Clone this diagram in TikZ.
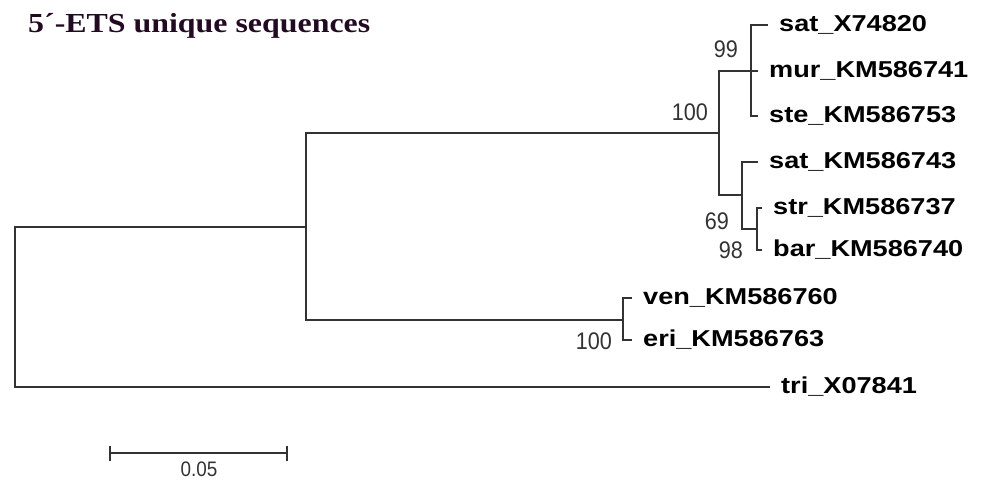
\documentclass[tikz,border=0pt]{standalone}
\usepackage{fontspec}
\setmainfont{Liberation Sans}
\newfontfamily\leaffont[FakeStretch=1.18]{Liberation Sans}
\newfontfamily\bootfont[FakeStretch=0.9]{Liberation Sans}
\newfontfamily\titlefont[FakeStretch=1.16]{Liberation Serif}
\usetikzlibrary{positioning}
\definecolor{branchgray}{RGB}{51,51,51}
\definecolor{titlepurple}{RGB}{35,10,35}

\begin{document}
\begin{tikzpicture}[x=1pt,y=-1pt]
	\tikzstyle{branch} = [draw=branchgray, line width=1.8pt]
	\tikzstyle{leaf} = [anchor=west, inner xsep=11pt, inner ysep=0pt, font=\leaffont\bfseries\fontsize{23}{27}\selectfont]
	\tikzstyle{boot} = [anchor=east, inner sep=0pt, text=branchgray, font=\bootfont\fontsize{24}{27}\selectfont]
	\useasboundingbox (0,0) rectangle (983,482);

	\node[anchor=base west, inner sep=0pt, text=titlepurple, font=\titlefont\bfseries\fontsize{27.5}{30}\selectfont] (title) at (28,32) {5´-ETS unique sequences};

	% inner nodes of the tree
	\coordinate (root) at (15,307);
	\coordinate (N1) at (306,227);
	\coordinate (NA) at (719,133);
	\coordinate (N99) at (751,71);
	\coordinate (N69) at (742,195);
	\coordinate (N98) at (757,229);
	\coordinate (NB) at (623,320);

	% taxa
	\node[leaf] (satX) at (768,25) {sat\_X74820};
	\node[leaf] (mur) at (758,71) {mur\_KM586741};
	\node[leaf] (ste) at (758,116) {ste\_KM586753};
	\node[leaf] (satK) at (758,162) {sat\_KM586743};
	\node[leaf] (str) at (762,208) {str\_KM586737};
	\node[leaf] (bar) at (762,250) {bar\_KM586740};
	\node[leaf] (ven) at (632,298) {ven\_KM586760};
	\node[leaf] (eri) at (632,340) {eri\_KM586763};
	\node[leaf] (tri) at (770,387) {tri\_X07841};

	% bootstrap values
	\node[boot] (bA) at (708,112) {100};
	\node[boot] (b99) at (738,49) {99};
	\node[boot] (b69) at (729,221) {69};
	\node[boot] (b98) at (743,250) {98};
	\node[boot] (bB) at (612,341) {100};

	% branches
	\draw[branch] (root) |- (N1);
	\draw[branch] (root) |- (tri.west);
	\draw[branch] (N1) |- (NA);
	\draw[branch] (N1) |- (NB);
	\draw[branch] (NA) |- (N99);
	\draw[branch] (NA) |- (N69);
	\draw[branch] (N99) |- (satX.west);
	\draw[branch] (N99) -- (mur.west);
	\draw[branch] (N99) |- (ste.west);
	\draw[branch] (N69) |- (satK.west);
	\draw[branch] (N69) |- (N98);
	\draw[branch] (N98) |- (str.west);
	\draw[branch] (N98) |- (bar.west);
	\draw[branch] (NB) |- (ven.west);
	\draw[branch] (NB) |- (eri.west);

	% scale bar
	\coordinate (sbL) at (110,453);
	\coordinate (sbR) at (287,453);
	\draw[branch] (sbL) -- (sbR);
	\draw[branch] (sbL) ++(0,-7) -- ++(0,15);
	\draw[branch] (sbR) ++(0,-7) -- ++(0,15);
	\node[boot, anchor=center, font=\bootfont\fontsize{21}{24}\selectfont] (scale) at (199,469) {0.05};
\end{tikzpicture}
\end{document}
